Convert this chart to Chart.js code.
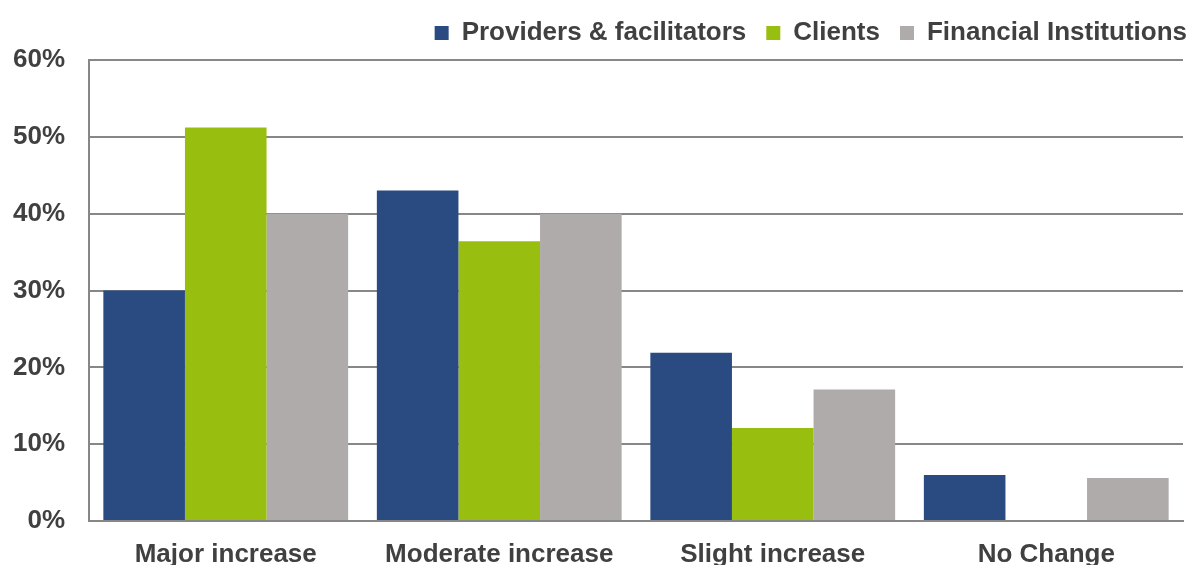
<!DOCTYPE html>
<html>
<head>
<meta charset="utf-8">
<script src="https://cdn.jsdelivr.net/npm/chart.js@4.4.0/dist/chart.umd.min.js"></script>
<style>
  html, body { margin: 0; padding: 0; background: #fff; }
  .chart-box { position: relative; width: 1190px; height: 565px; }
</style>
</head>
<body>
<div class="chart-box">
  <canvas id="changeChart"></canvas>
</div>
<script>
const categories = ['Major increase', 'Moderate increase', 'Slight increase', 'No Change'];
const providers = [30, 43, 21.9, 6.0];
const clients = [51.2, 36.4, 12.1, 0];
const institutions = [40, 40, 17.1, 5.6];
const yTicks = [0, 10, 20, 30, 40, 50, 60];

const textColor = '#404040';
const gridColor = '#878787';
const font = { family: '"Liberation Sans", Arial, sans-serif', size: 26, weight: 'bold' };

// fix legend height so the plot starts where the original does
const legendHeight = {
  id: 'legendHeight',
  beforeInit(chart) {
    const fit = chart.legend.fit;
    chart.legend.fit = function () {
      fit.bind(chart.legend)();
      this.height = 60;
    };
  },
  afterLayout(chart) {
    // legend runs a bit further right than the plot
    chart.legend.right += 24;
  }
};

new Chart(document.getElementById('changeChart'), {
  type: 'bar',
  data: {
    labels: categories,
    datasets: [
      { label: 'Providers & facilitators', data: providers, backgroundColor: '#2A4A82' },
      { label: 'Clients', data: clients, backgroundColor: '#98BF0F' },
      { label: 'Financial Institutions', data: institutions, backgroundColor: '#AFABAA' }
    ]
  },
  options: {
    responsive: true,
    maintainAspectRatio: false,
    animation: false,
    layout: { padding: { left: 0, right: 7, top: 0, bottom: 0 } },
    datasets: {
      bar: { barPercentage: 1, categoryPercentage: 0.895, borderWidth: 0 }
    },
    plugins: {
      legend: {
        position: 'top',
        align: 'end',
        labels: {
          boxWidth: 14,
          boxHeight: 14,
          padding: 20,
          color: textColor,
          font: font
        }
      },
      tooltip: { enabled: false }
    },
    scales: {
      x: {
        grid: { display: false, drawTicks: false },
        border: { display: true, color: gridColor, width: 2 },
        ticks: { color: textColor, font: font, padding: 18, maxRotation: 0 },
        afterFit(scale) { scale.height = 44; }
      },
      y: {
        min: 0,
        max: 60,
        afterBuildTicks(scale) { scale.ticks = yTicks.map(v => ({ value: v })); },
        grid: { color: gridColor, lineWidth: 2, drawTicks: false },
        border: { display: true, color: gridColor, width: 2 },
        ticks: {
          color: textColor,
          font: font,
          padding: 24,
          callback: (value) => value + '%'
        },
        afterFit(scale) { scale.width = 89; }
      }
    }
  },
  plugins: [legendHeight]
});
</script>
</body>
</html>
